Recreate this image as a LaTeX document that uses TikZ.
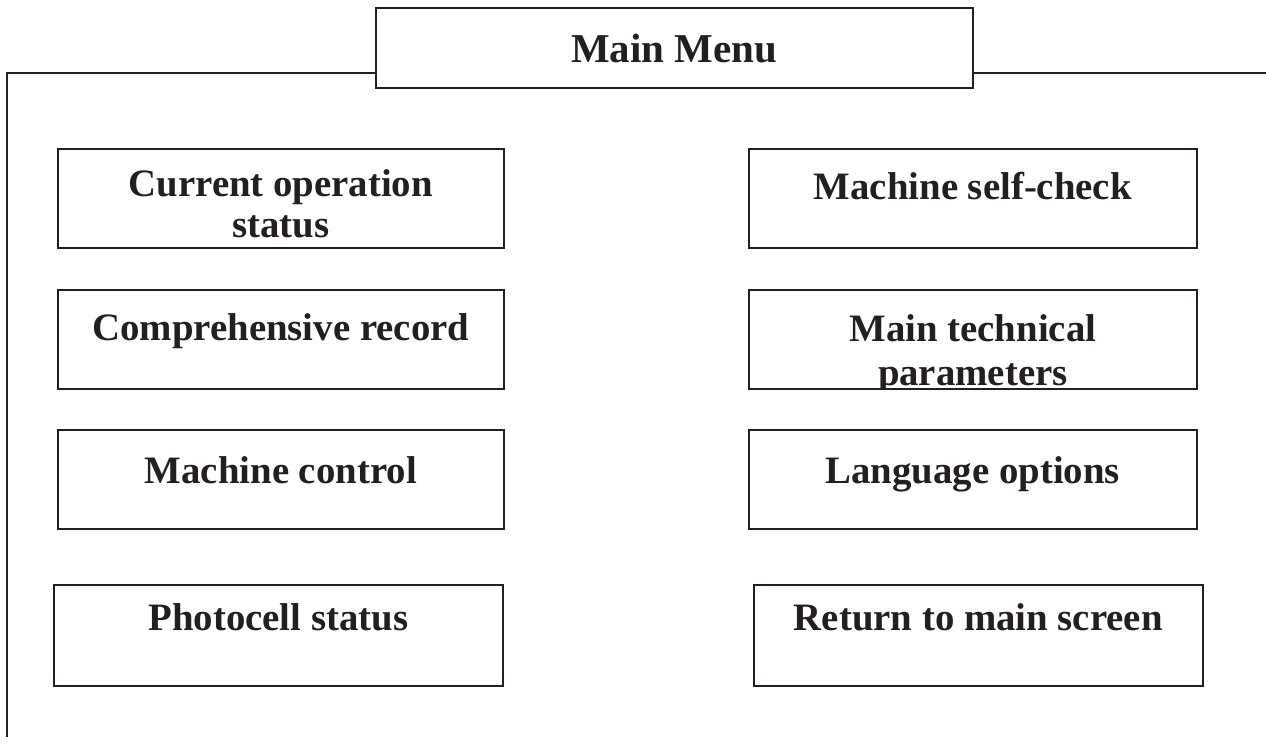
\documentclass[tikz,border=0pt]{standalone}
\usepackage{fontspec}
\setmainfont{Liberation Serif}
\definecolor{ink}{HTML}{231F20}
\begin{document}
\begin{tikzpicture}[x=1pt,y=-1pt,
  box/.style={draw=ink, line width=1.6pt, inner sep=0pt, anchor=north west},
  frame/.style={draw=ink, line width=1.6pt},
  lbl/.style={text=ink, font=\fontsize{38.8}{40}\selectfont\bfseries, anchor=base, inner sep=0pt},
  big/.style={text=ink, font=\fontsize{41}{43}\selectfont\bfseries, anchor=base, inner sep=0pt}]
\useasboundingbox (0,0) rectangle (1266,743);
% main menu
\node[box, minimum width=597pt, minimum height=80pt] (mm) at (375,7) {};
\node[big] (mmt) at ([yshift=-56pt]mm.north) {Main Menu};
% frame
\coordinate (tl) at (7,73);
\coordinate (bl) at (7,737);
\coordinate (tr) at (1266,73);
\draw[frame] (mm.west |- tl) -- (tl) -- (bl);
\draw[frame] (mm.east |- tr) -- (tr);
% boxes
\node[box, minimum width=446pt, minimum height=99pt] (b1) at (57,148) {};
\node[box, minimum width=448pt, minimum height=99pt] (b2) at (748,148) {};
\node[box, minimum width=446pt, minimum height=99pt] (b3) at (57,289) {};
\node[box, minimum width=448pt, minimum height=99pt] (b4) at (748,289) {};
\node[box, minimum width=446pt, minimum height=99pt] (b5) at (57,429) {};
\node[box, minimum width=448pt, minimum height=99pt] (b6) at (748,429) {};
\node[box, minimum width=449pt, minimum height=101pt] (b7) at (53,584) {};
\node[box, minimum width=449pt, minimum height=101pt] (b8) at (753,584) {};
% labels
\node[lbl] (t1a) at ([yshift=-49pt]b1.north) {Current operation};
\node[lbl] (t1b) at ([yshift=-90pt]b1.north) {status};
\node[lbl] (t2) at ([yshift=-52pt]b2.north) {Machine self-check};
\node[lbl] (t3) at ([yshift=-51pt]b3.north) {Comprehensive record};
\begin{scope}
  \clip (b4.north west) rectangle ([yshift=0.8pt]b4.south east);
  \node[lbl] (t4a) at ([yshift=-52pt]b4.north) {Main technical};
  \node[lbl] (t4b) at ([yshift=-96pt]b4.north) {parameters};
\end{scope}
\node[lbl] (t5) at ([yshift=-54pt]b5.north) {Machine control};
\node[lbl] (t6) at ([yshift=-54pt]b6.north) {Language options};
\node[lbl] (t7) at ([yshift=-46pt]b7.north) {Photocell status};
\node[lbl] (t8) at ([yshift=-46pt]b8.north) {Return to main screen};
\end{tikzpicture}
\end{document}
